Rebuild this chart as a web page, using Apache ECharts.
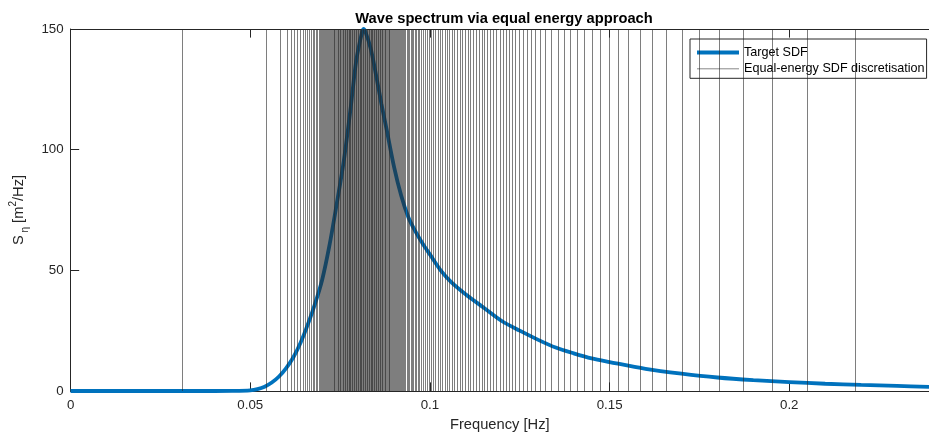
<!DOCTYPE html>
<html>
<head>
<meta charset="utf-8">
<script src="https://cdn.jsdelivr.net/npm/echarts@6/dist/echarts.min.js"></script>
<style>
html,body{margin:0;padding:0;background:#fff;}
#chart{width:929px;height:437px;}
</style>
</head>
<body>
<div id="chart"></div>
<script>
// Target spectral density curve (frequency in Hz, S in m^2/Hz)
const curveFreq = [0, 0.02, 0.04, 0.045, 0.05, 0.052, 0.054, 0.056, 0.058, 0.060, 0.062, 0.064, 0.066, 0.068, 0.070, 0.072, 0.074, 0.076, 0.078, 0.0795, 0.081, 0.0815, 0.082, 0.0835, 0.085, 0.0865, 0.088, 0.090, 0.092, 0.094, 0.096, 0.098, 0.100, 0.103, 0.106, 0.110, 0.115, 0.120, 0.125, 0.130, 0.135, 0.140, 0.145, 0.150, 0.160, 0.170, 0.180, 0.190, 0.200, 0.210, 0.220, 0.230, 0.2389];
const curveS = [0, 0, 0, 0.05, 0.3, 0.8, 1.8, 3.5, 6, 9.5, 14, 20, 27.5, 36, 46, 60, 77, 95, 118, 137, 148, 150, 149, 142, 131, 119, 108, 93, 81, 72, 66, 61, 56.6, 50, 45, 40, 34.5, 29, 25, 21.3, 18, 15.6, 13.5, 12, 9.2, 7.2, 5.6, 4.5, 3.7, 3, 2.5, 2.1, 1.7];

// Equal-energy discretisation frequencies (Hz)
const linesRising = [0.03103, 0.054556, 0.058333, 0.060194, 0.061306, 0.062222, 0.063111, 0.063889, 0.064639, 0.065333, 0.065944, 0.066500, 0.067000, 0.067472, 0.067917, 0.068333, 0.068722, 0.069083, 0.069431, 0.069764, 0.070083, 0.070389, 0.070681, 0.070958, 0.071228, 0.071500, 0.071767, 0.072028, 0.072283, 0.072533, 0.072778, 0.073017, 0.073250, 0.073478, 0.073700, 0.073919, 0.074136, 0.074350, 0.074561, 0.074769, 0.074975, 0.075178, 0.075378, 0.075575, 0.075769, 0.075961, 0.076150, 0.076336, 0.076519, 0.076700];
const linesPeak = [0.07688, 0.07706, 0.07724, 0.07742, 0.07760, 0.07778, 0.07796, 0.07814, 0.07832, 0.07850, 0.07868, 0.07886, 0.07904, 0.07922, 0.07940, 0.07958, 0.07976, 0.07994, 0.08012, 0.08030, 0.08048, 0.08066, 0.08084, 0.08102, 0.08120, 0.08138, 0.08156, 0.08174, 0.08192, 0.08210, 0.08228, 0.08246, 0.08264, 0.08282, 0.08300, 0.08318, 0.08336, 0.08354, 0.08372, 0.08390, 0.08408, 0.08426, 0.08444, 0.08462, 0.08480, 0.08498, 0.08516, 0.08534, 0.08552, 0.08570, 0.08589, 0.08608, 0.08627, 0.08646, 0.08666, 0.08686, 0.08706, 0.08727, 0.08748, 0.08769, 0.08791, 0.08813, 0.08835, 0.08858, 0.08881, 0.08905, 0.08929, 0.08954, 0.08979, 0.09005, 0.09031, 0.09058, 0.09085, 0.09113, 0.09141, 0.09170, 0.09199, 0.09229];
const linesFalling = [0.09260, 0.09292, 0.09325, 0.09359, 0.09394, 0.09430, 0.09467, 0.09505, 0.09544, 0.09584, 0.09626, 0.09670, 0.09716, 0.09764, 0.09814, 0.09866, 0.09920, 0.09976, 0.10034, 0.10094, 0.10156, 0.10219, 0.10283, 0.10348, 0.10414, 0.10481, 0.10549, 0.10618, 0.10688, 0.10759, 0.10831, 0.10904, 0.10978, 0.11053, 0.11129, 0.11206, 0.11284, 0.11363, 0.11443, 0.11524, 0.11606, 0.11689, 0.11773, 0.11858, 0.11944, 0.12031, 0.12119, 0.12208];
const linesTail = [0.12289, 0.12386, 0.12489, 0.12594, 0.12706, 0.12822, 0.12944, 0.13075, 0.13214, 0.13386, 0.13561, 0.13733, 0.13914, 0.14103, 0.14303, 0.14514, 0.14742, 0.14983, 0.15239, 0.15528, 0.15842, 0.16194, 0.16575, 0.17011, 0.17500, 0.18056, 0.18722, 0.19519, 0.20511, 0.21825];

const xTicks = [0, 0.05, 0.1, 0.15, 0.2];
const yTicks = [0, 50, 100, 150];

const FONT = '"Liberation Sans", Arial, Helvetica, sans-serif';
const AXC = '#262626';
const LINE_COLOR = 'rgba(38,38,38,0.75)';
const lineFreqs = [].concat(linesRising, linesPeak, linesFalling, linesTail);
const curveData = curveFreq.map((f, i) => [f, curveS[i]]);

const chart = echarts.init(document.getElementById('chart'), null, {renderer: 'canvas'});
const commonX = {
  type: 'value', min: 0, max: 0.23889,
  axisLine: {show: true, onZero: false, lineStyle: {color: AXC, width: 1}},
  axisTick: {show: true, inside: true, length: 8.6, lineStyle: {color: AXC, width: 1},
    customValues: xTicks},
  splitLine: {show: false}
};
chart.setOption({
  animation: false,
  backgroundColor: '#fff',
  title: {
    text: 'Wave spectrum via equal energy approach',
    left: 499, top: 6, textAlign: 'center',
    textStyle: {fontFamily: FONT, fontSize: 14.7, fontWeight: 'bold', color: '#000'}
  },
  grid: {left: 69, top: 29, width: 860, height: 363, containLabel: false},
  legend: {
    orient: 'vertical', left: 690, top: 39,
    padding: [7, 2, 3, 5], itemGap: 3.3, itemWidth: 42, itemHeight: 14,
    backgroundColor: '#fff', borderColor: AXC, borderWidth: 1,
    itemStyle: {opacity: 0},
    textStyle: {fontFamily: FONT, fontSize: 12.6, color: '#000'},
    data: [
      {name: 'Target SDF', lineStyle: {color: '#0072BD', width: 4}},
      {name: 'Equal-energy SDF discretisation', lineStyle: {color: 'rgba(38,38,38,0.55)', width: 1}}
    ]
  },
  xAxis: [
    Object.assign({}, commonX, {
      position: 'bottom',
      name: 'Frequency [Hz]', nameLocation: 'middle', nameGap: 26,
      nameTextStyle: {fontFamily: FONT, fontSize: 14.7, color: AXC},
      axisLabel: {show: true, margin: 8, fontFamily: FONT, fontSize: 13.3, color: AXC,
        customValues: xTicks,
        formatter: v => String(Math.round(v * 1000) / 1000)}
    }),
    Object.assign({}, commonX, {position: 'top', axisLabel: {show: false}})
  ],
  yAxis: {
    type: 'value', min: 0, max: 150, interval: 50,
    axisLine: {show: true, lineStyle: {color: AXC, width: 1}},
    axisTick: {show: true, inside: true, length: 8.6, lineStyle: {color: AXC, width: 1}},
    splitLine: {show: false},
    axisLabel: {margin: 7, fontFamily: FONT, fontSize: 13.3, color: AXC,
      formatter: v => (yTicks.indexOf(v) >= 0 ? String(v) : '')},
    name: '{m|S}{s| η} {m|[m}{p|2}{m|/Hz]}',
    nameLocation: 'middle', nameGap: 40, nameRotate: 90,
    nameTextStyle: {
      fontFamily: FONT, fontSize: 14.7, color: AXC,
      rich: {
        m: {fontFamily: FONT, fontSize: 14.7, color: AXC, lineHeight: 22, verticalAlign: 'bottom'},
        s: {fontFamily: FONT, fontSize: 10, color: AXC, lineHeight: 22, verticalAlign: 'bottom', padding: [0, 0, -4, 0]},
        p: {fontFamily: FONT, fontSize: 10, color: AXC, lineHeight: 22, verticalAlign: 'bottom', padding: [0, 0, 8, 0]}
      }
    }
  },
  series: [
    {
      name: 'Target SDF', type: 'line', data: curveData, showSymbol: false, symbol: 'none',
      smooth: 0.3, z: 2,
      lineStyle: {color: '#0072BD', width: 3.8}, itemStyle: {color: '#0072BD'}
    },
    {
      name: 'Equal-energy SDF discretisation', type: 'line', data: [], symbol: 'none', z: 3,
      lineStyle: {color: LINE_COLOR, width: 0.8}, itemStyle: {color: LINE_COLOR},
      markLine: {
        silent: true, symbol: ['none', 'none'], animation: false, precision: 6,
        label: {show: false},
        lineStyle: {color: LINE_COLOR, width: 0.8, type: 'solid'},
        emphasis: {disabled: true},
        data: lineFreqs.map(v => ({xAxis: v}))
      }
    }
  ]
});
</script>
</body>
</html>
